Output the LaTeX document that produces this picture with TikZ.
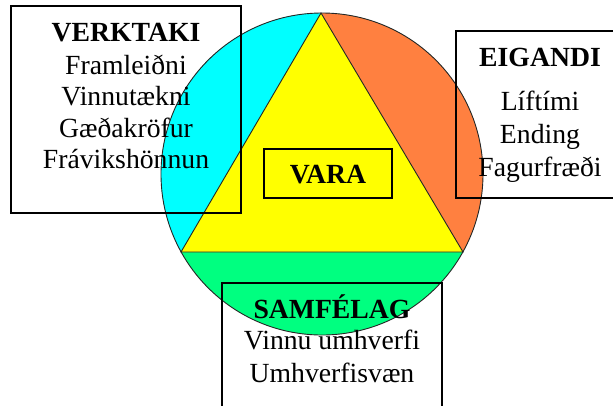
\documentclass[tikz,border=0pt]{standalone}
\usepackage{fontspec}
\setmainfont{Liberation Serif}
\definecolor{cyanc}{RGB}{0,255,255}
\definecolor{orangec}{RGB}{255,128,64}
\definecolor{yellowc}{RGB}{255,255,0}
\definecolor{greenc}{RGB}{0,255,128}
\begin{document}
\begin{tikzpicture}[x=1pt,y=-1pt,
  txt/.style={font=\fontsize{27.7}{31.6}\selectfont, anchor=base, inner sep=0pt},
  ttl/.style={font=\fontsize{27.7}{31.6}\selectfont\bfseries, anchor=base, inner sep=0pt},
  boxline/.style={draw=black, line width=1.3pt},
  edgeline/.style={draw=black!85, line width=0.9pt}]
\useasboundingbox (0,0) rectangle (613,405);
\clip (0,0) rectangle (613,405);
\coordinate (O) at (322,174);
\coordinate (apex) at (321,13);
\coordinate (bl) at (181,252);
\coordinate (br) at (463,252);
\begin{scope}
  \clip (O) circle (161);
  \fill[greenc] (O) circle (161);
  \fill[cyanc] (apex) -- (bl) -- (100,252) -- (100,0) -- (321,0) -- cycle;
  \fill[orangec] (apex) -- (br) -- (540,252) -- (540,0) -- (321,0) -- cycle;
\end{scope}
\fill[yellowc] (apex) -- (bl) -- (br) -- cycle;
\draw[edgeline] (apex) -- (bl) -- (br) -- cycle;
\draw[edgeline] (O) circle (161);
% boxes
\draw[boxline] (11,6) rectangle (241,213);
\draw[boxline] (456,31) rectangle (625,198);
\draw[boxline] (264,149) rectangle (392,198);
\draw[boxline] (222,283) rectangle (442,420);
% VERKTAKI
\node[ttl] (vt) at (126,41.7) {VERKTAKI};
\node[txt] (v1) at (126,74) {Framleiðni};
\node[txt] (v2) at (126,105.5) {Vinnutækni};
\node[txt] (v3) at (126,137) {Gæðakröfur};
\node[txt] (v4) at (126,168.5) {Frávikshönnun};
% EIGANDI
\node[ttl] (et) at (540,66) {EIGANDI};
\node[txt] (e1) at (540,110.7) {Líftími};
\node[txt] (e2) at (540,143.3) {Ending};
\node[txt] (e3) at (540,176) {Fagurfræði};
% VARA
\node[ttl] (va) at (328,183) {VARA};
% SAMFELAG
\node[ttl] (st) at (332,318) {SAMFÉLAG};
\node[txt] (s1) at (332,349.5) {Vinnu umhverfi};
\node[txt] (s2) at (332,382) {Umhverfisvæn};
\end{tikzpicture}
\end{document}
